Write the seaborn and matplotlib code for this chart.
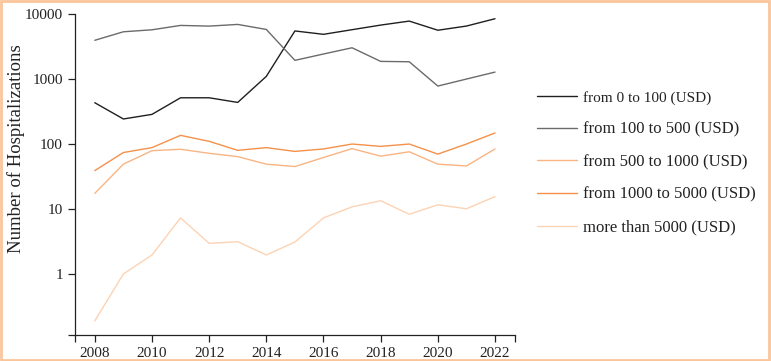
import matplotlib
matplotlib.use("Agg")
import matplotlib.pyplot as plt
import matplotlib.patches
import seaborn as sns
import pandas as pd

years = list(range(2008, 2023))
labels = ["from 0 to 100 (USD)", "from 100 to 500 (USD)", "from 500 to 1000 (USD)",
          "from 1000 to 5000 (USD)", "more than 5000 (USD)"]
usd_0_100 = [432, 243, 286, 515, 515, 437, 1100, 5500, 4880, 5750, 6770, 7800, 5640, 6540, 8480]
usd_100_500 = [3950, 5340, 5730, 6690, 6530, 6930, 5800, 1940, 2430, 3030, 1870, 1845, 780, 1000, 1280]
usd_500_1000 = [17.4, 49, 79, 83, 72, 64, 49, 45, 62, 85, 65, 76, 49, 46, 84]
usd_1000_5000 = [39, 74, 88, 136, 110, 80, 88, 77, 84, 100, 92, 100, 70, 100, 148]
usd_5000_plus = [0.19, 1.0, 1.96, 7.3, 2.96, 3.14, 1.96, 3.1, 7.3, 10.8, 13.4, 8.3, 11.6, 10.1, 15.5]
colors = ["#1f1f1f", "#6b6b6b", "#f8b583", "#f4914a", "#fcd3b4"]
y_ticks = [1, 10, 100, 1000, 10000]

series = [usd_0_100, usd_100_500, usd_500_1000, usd_1000_5000, usd_5000_plus]
rows = []
for name, vals in zip(labels, series):
    for yr, v in zip(years, vals):
        rows.append({"year": yr, "count": v, "group": name})
df = pd.DataFrame(rows)

sns.set_style("ticks")
plt.rcParams['font.family'] = ['Liberation Serif', 'DejaVu Serif']

fig = plt.figure(figsize=(7.71, 3.61), dpi=100)
ax = fig.add_axes([0.097, 0.072, 0.571, 0.889])

sns.lineplot(data=df, x="year", y="count", hue="group", hue_order=labels,
             palette=colors, linewidth=1.0, ax=ax)

ax.set_yscale("log")
ax.set_ylim(0.115, 10000)
ax.set_xlim(2007.3, 2022.7)
ax.set_yticks(y_ticks)
ax.set_yticklabels([str(t) for t in y_ticks])
ax.yaxis.set_minor_locator(matplotlib.ticker.FixedLocator([0.115]))
ax.yaxis.set_minor_formatter(matplotlib.ticker.NullFormatter())
ax.set_xticks(list(range(2008, 2023, 2)))
ax.set_xticks([2007.3, 2022.7], minor=True)
ax.tick_params(axis="both", which="both", length=5, width=0.9, labelsize=11, colors="#222222")
ax.set_xlabel("")
ax.set_ylabel("Number of Hospitalizations", fontsize=13.5, color="#222222")
ax.yaxis.set_label_coords(-0.112, 0.58)
sns.despine(ax=ax)
for s in ["left", "bottom"]:
    ax.spines[s].set_color("#222222")
    ax.spines[s].set_linewidth(0.9)

leg = ax.legend(loc="center left", bbox_to_anchor=(1.016, 0.537), frameon=False,
                fontsize=12, handlelength=2.4, handletextpad=0.35, labelspacing=1.0)
for t in leg.get_texts():
    t.set_color("#222222")
leg.get_texts()[0].set_fontsize(11)

fig.patches.append(matplotlib.patches.Rectangle((0.001, 0.002), 0.997, 0.995, transform=fig.transFigure,
                                                fill=False, edgecolor="#fbc59a", linewidth=2))

plt.savefig("out.png", dpi=100)
